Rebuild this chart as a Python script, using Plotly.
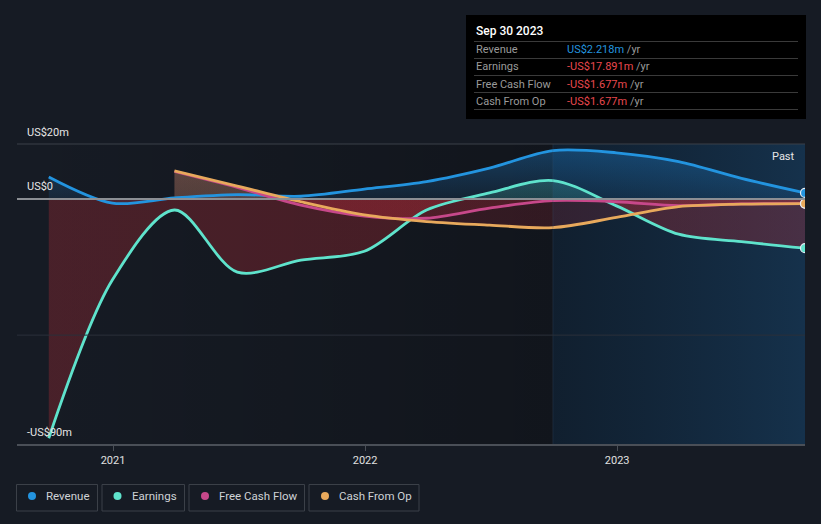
import plotly.graph_objects as go

# ---------------- data (US$ m) ----------------
dates = ["2020-09-30", "2020-12-31", "2021-03-31", "2021-06-30", "2021-09-30",
         "2021-12-31", "2022-03-31", "2022-06-30", "2022-09-30", "2022-12-31",
         "2023-03-31", "2023-06-30", "2023-09-30"]
revenue = [8.0, -1.5, 0.4, 1.6, 1.0, 3.6, 6.3, 11.2, 17.6, 16.8, 13.6, 7.5, 2.218]
earnings = [-87.0, -29.5, -4.0, -26.6, -22.2, -19.0, -4.0, 2.2, 6.7, -2.5, -12.8, -15.5, -17.891]
cf_dates = dates[2:]
fcf = [10.0, 4.2, -2.2, -6.2, -7.0, -3.3, -0.6, -1.0, -2.4, -1.8, -1.677]
cfo = [10.2, 4.7, -1.0, -5.8, -8.2, -9.5, -10.4, -6.7, -2.8, -1.9, -1.677]

series_names = ["Revenue", "Earnings", "Free Cash Flow", "Cash From Op"]
colors = ["#2394df", "#5fe3cc", "#c7488a", "#e8a95c"]
y_ticks = [20, 0, -89.1]
y_tick_text = ["US$20m", "US$0", "-US$90m"]
x_ticks = ["2021-01-01", "2022-01-01", "2023-01-01"]
x_tick_text = ["2021", "2022", "2023"]
tooltip_title = "Sep 30 2023"
tooltip_values = ["US$2.218m", "-US$17.891m", "-US$1.677m", "-US$1.677m"]
tooltip_colors = ["#2394df", "#e8484e", "#e8484e", "#e8484e"]
past_start = "2022-09-30"

YMIN, YMAX = -89.1, 20
XMIN, XMAX = "2020-08-15", "2023-09-30"

# plot area in pixels
L, R, T, B = 17, 805, 144, 444
W_, H_ = 821, 524


def px_x(p):
    return (p - L) / (R - L)


def px_y(p):
    return (B - p) / (B - T)


zf = (0 - YMIN) / (YMAX - YMIN)

fig = go.Figure()

# background regions (decoration)
fig.add_trace(go.Scatter(
    x=[XMIN, past_start, past_start, XMIN], y=[YMIN, YMIN, YMAX, YMAX],
    fill="toself", mode="none", hoverinfo="skip", showlegend=False,
    fillgradient=dict(type="horizontal",
                      colorscale=[[0, "rgba(0,0,0,0)"], [1, "rgba(0,0,0,0.22)"]])))
fig.add_trace(go.Scatter(
    x=[past_start, XMAX, XMAX, past_start], y=[YMIN, YMIN, YMAX, YMAX],
    fill="toself", mode="none", hoverinfo="skip", showlegend=False,
    fillgradient=dict(type="horizontal",
                      colorscale=[[0, "rgba(5,40,70,0.32)"], [1, "rgba(20,80,130,0.42)"]])))
fig.add_shape(type="line", xref="x", yref="paper", x0=past_start, x1=past_start, y0=0, y1=1,
              line=dict(color="rgba(60,90,120,0.25)", width=1))

# fills
fig.add_trace(go.Scatter(
    x=dates, y=revenue, mode="lines", line=dict(width=0, shape="spline"),
    fill="tozeroy", hoverinfo="skip", showlegend=False,
    fillgradient=dict(type="vertical", start=YMIN, stop=YMAX,
                      colorscale=[[0, "rgba(33,150,243,0.05)"], [zf, "rgba(33,150,243,0.10)"],
                                  [1, "rgba(33,150,243,0.33)"]])))
fig.add_trace(go.Scatter(
    x=dates, y=earnings, mode="lines", line=dict(width=0, shape="spline"),
    fill="tozeroy", hoverinfo="skip", showlegend=False,
    fillgradient=dict(type="vertical", start=YMIN, stop=YMAX,
                      colorscale=[[0, "rgba(190,45,55,0.30)"], [zf, "rgba(190,45,55,0.30)"],
                                  [zf, "rgba(88,225,200,0.16)"], [1, "rgba(88,225,200,0.28)"]])))
for yy in (fcf, cfo):
    fig.add_trace(go.Scatter(
        x=cf_dates, y=yy, mode="lines", line=dict(width=0, shape="spline"),
        fill="tozeroy", hoverinfo="skip", showlegend=False,
        fillgradient=dict(type="vertical", start=YMIN, stop=YMAX,
                          colorscale=[[0, "rgba(200,45,60,0.18)"], [zf, "rgba(200,45,60,0.18)"],
                                      [zf, "rgba(230,150,120,0.16)"], [1, "rgba(230,150,120,0.22)"]])))

# lines
for xs, ys, c, n in [(dates, revenue, colors[0], series_names[0]),
                     (dates, earnings, colors[1], series_names[1]),
                     (cf_dates, fcf, colors[2], series_names[2]),
                     (cf_dates, cfo, colors[3], series_names[3])]:
    fig.add_trace(go.Scatter(x=xs, y=ys, mode="lines", name=n,
                             line=dict(color=c, width=2.8, shape="spline", smoothing=0.9),
                             showlegend=False, hoverinfo="skip"))
# end dots
for xs, ys, c in [(dates, earnings, colors[1]), (cf_dates, fcf, colors[2]),
                  (cf_dates, cfo, colors[3]), (dates, revenue, colors[0])]:
    fig.add_trace(go.Scatter(x=[xs[-1]], y=[ys[-1]], mode="markers",
                             marker=dict(color=c, size=9, line=dict(color="#e8eef5", width=1.2)),
                             showlegend=False, hoverinfo="skip"))

shapes = []
annotations = []

# zero line & gridlines
shapes.append(dict(type="line", xref="paper", yref="y", x0=0, x1=1, y0=0, y1=0,
                   line=dict(color="#8c8f94", width=2)))
shapes.append(dict(type="line", xref="paper", yref="paper", x0=0, x1=1, y0=1, y1=1,
                   line=dict(color="#3b4049", width=1)))
shapes.append(dict(type="line", xref="paper", yref="y", x0=0, x1=1, y0=-49.5, y1=-49.5,
                   line=dict(color="#2b303a", width=1)))

# y tick labels
for v, t in zip(y_ticks, y_tick_text):
    annotations.append(dict(xref="paper", yref="paper", x=px_x(25),
                            y=px_y(B - (v - YMIN) / (YMAX - YMIN) * (B - T) - 12),
                            text=t, showarrow=False, xanchor="left", yanchor="middle",
                            font=dict(size=11, color="#e6e6e6")))

# Past label
annotations.append(dict(xref="paper", yref="paper", x=px_x(797), y=px_y(156), text="Past",
                        showarrow=False, xanchor="right", yanchor="middle",
                        font=dict(size=11, color="#e6e6e6")))

# tooltip box
shapes.append(dict(type="rect", xref="paper", yref="paper", x0=px_x(466), x1=px_x(806),
                   y0=px_y(119), y1=px_y(15), fillcolor="#000000", line=dict(width=0)))
annotations.append(dict(xref="paper", yref="paper", x=px_x(474), y=px_y(31), text=tooltip_title,
                        showarrow=False, xanchor="left", yanchor="middle",
                        font=dict(size=12, color="#ffffff", weight=500)))
for sy in [41.5, 58.5, 75.5, 92.5, 109.5]:
    shapes.append(dict(type="line", xref="paper", yref="paper", x0=px_x(474), x1=px_x(798),
                       y0=px_y(sy), y1=px_y(sy), line=dict(color="#3a3a3a", width=1)))
for i, (n, v, c) in enumerate(zip(series_names, tooltip_values, tooltip_colors)):
    ry = 49.5 + 17.3 * i
    annotations.append(dict(xref="paper", yref="paper", x=px_x(474), y=px_y(ry), text=n,
                            showarrow=False, xanchor="left", yanchor="middle",
                            font=dict(size=11, color="#9a9a9a")))
    annotations.append(dict(xref="paper", yref="paper", x=px_x(565), y=px_y(ry),
                            text=f"<span style='color:{c}'>{v}</span> /yr",
                            showarrow=False, xanchor="left", yanchor="middle",
                            font=dict(size=11, color="#9a9a9a")))

# legend
leg_boxes = [(16.5, 97.5), (102, 184.5), (189, 304.5), (309, 419)]
leg_dot_x = [32, 117.5, 205, 325]
leg_text_x = [44, 130, 217, 337]
for (x0, x1), dx, tx, n, c in zip(leg_boxes, leg_dot_x, leg_text_x, series_names, colors):
    shapes.append(dict(type="rect", xref="paper", yref="paper", x0=px_x(x0), x1=px_x(x1),
                       y0=px_y(511), y1=px_y(484.5), line=dict(color="#3b4048", width=1)))
    shapes.append(dict(type="circle", xref="paper", yref="paper", x0=px_x(dx - 4), x1=px_x(dx + 4),
                       y0=px_y(500), y1=px_y(492), fillcolor=c, line=dict(width=0)))
    annotations.append(dict(xref="paper", yref="paper", x=px_x(tx), y=px_y(496), text=n,
                            showarrow=False, xanchor="left", yanchor="middle",
                            font=dict(size=11.5, color="#cfd2d6")))

fig.update_layout(
    width=W_, height=H_,
    margin=dict(l=L, r=W_ - R, t=T, b=H_ - B),
    paper_bgcolor="#161b24", plot_bgcolor="#161b24",
    font=dict(family="Roboto, Inter, sans-serif", color="#e6e6e6"),
    showlegend=False,
    shapes=list(fig.layout.shapes) + shapes, annotations=annotations,
    xaxis=dict(range=[XMIN, XMAX], tickvals=x_ticks, ticktext=x_tick_text,
               showgrid=False, zeroline=False, showline=True, linecolor="#4a4f57", linewidth=1.5,
               ticks="outside", ticklen=5, tickcolor="#4a4f57", tickfont=dict(size=11, color="#e0e0e0")),
    yaxis=dict(range=[YMIN, YMAX], showgrid=False, zeroline=False, showticklabels=False,
               fixedrange=True),
)

fig.write_html("out.html")
